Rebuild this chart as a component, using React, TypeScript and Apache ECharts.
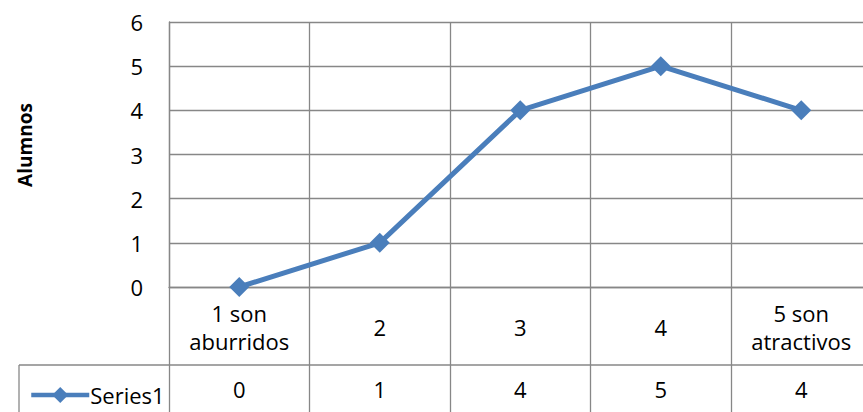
import React, { useEffect, useRef } from "react";
import * as echarts from "echarts";

const categories = ["1 son\naburridos", "2", "3", "4", "5 son\natractivos"];
const series1 = [0, 1, 4, 5, 4];
const seriesName = "Series1";
const yTicks = { min: 0, max: 6, interval: 1 };
const yName = "Alumnos";

const GRAY = "#878787";
const BLUE = "#4A7EBB";
const FONT = "'Open Sans', 'Noto Sans', sans-serif";

export default function App() {
  const ref = useRef<HTMLDivElement>(null);
  useEffect(() => {
    if (!ref.current) return;
    const chart = echarts.init(ref.current, undefined, { renderer: "svg" });
    chart.setOption({
      animation: false,
      backgroundColor: "#ffffff",
      textStyle: { fontFamily: FONT },
      grid: { left: 169, top: 22, right: 0.5, bottom: 125 },
      legend: {
        left: 24,
        top: 379,
        itemWidth: 58,
        itemHeight: 20,
        itemGap: 0,
        lineStyle: { width: 4.5 },
        textStyle: { fontSize: 22, color: "#000", fontFamily: FONT, padding: [0, 0, 0, -4] },
        data: [seriesName],
      },
      xAxis: [
        {
          type: "category",
          data: categories,
          boundaryGap: true,
          axisLine: { show: true, lineStyle: { color: GRAY, width: 1.3 } },
          axisTick: { show: true, length: 130, lineStyle: { color: GRAY, width: 1.3 } },
          splitLine: { show: true, lineStyle: { color: GRAY, width: 1.3 } },
          axisLabel: {
            color: "#000",
            fontSize: 22,
            fontFamily: FONT,
            margin: 40,
            verticalAlign: "middle",
            lineHeight: 28,
            interval: 0,
          },
        },
        {
          type: "category",
          data: series1.map(String),
          position: "bottom",
          boundaryGap: true,
          axisLine: { show: false },
          axisTick: { show: false },
          splitLine: { show: false },
          axisLabel: {
            color: "#000",
            fontSize: 22,
            fontFamily: FONT,
            margin: 102,
            verticalAlign: "middle",
            interval: 0,
          },
        },
      ],
      yAxis: {
        type: "value",
        min: yTicks.min,
        max: yTicks.max,
        interval: yTicks.interval,
        axisLine: { show: true, lineStyle: { color: GRAY, width: 1.3 } },
        axisTick: { show: false },
        splitLine: { show: true, lineStyle: { color: GRAY, width: 1.3 } },
        axisLabel: { color: "#000", fontSize: 22, fontFamily: FONT, margin: 26 },
      },
      graphic: [
        {
          type: "text",
          x: 25,
          y: 145,
          rotation: Math.PI / 2,
          style: {
            text: yName,
            fontSize: 19,
            fontWeight: "bold",
            fill: "#000",
            fontFamily: FONT,
            align: "center",
            verticalAlign: "middle",
          },
        },
        { type: "line", shape: { x1: 19, y1: 365, x2: 872, y2: 365 }, style: { stroke: GRAY, lineWidth: 1.3 } },
        { type: "line", shape: { x1: 19, y1: 365, x2: 19, y2: 412 }, style: { stroke: GRAY, lineWidth: 1.3 } },
      ],
      series: [
        {
          name: seriesName,
          type: "line",
          data: series1,
          symbol: "diamond",
          symbolSize: 20,
          lineStyle: { color: BLUE, width: 5 },
          itemStyle: { color: BLUE },
        },
      ],
    });
    return () => chart.dispose();
  }, []);
  return (
    <div style={{ position: "absolute", left: 0, top: 0, width: 863, height: 412, overflow: "hidden" }}>
      <div ref={ref} style={{ width: 872, height: 412 }} />
    </div>
  );
}
